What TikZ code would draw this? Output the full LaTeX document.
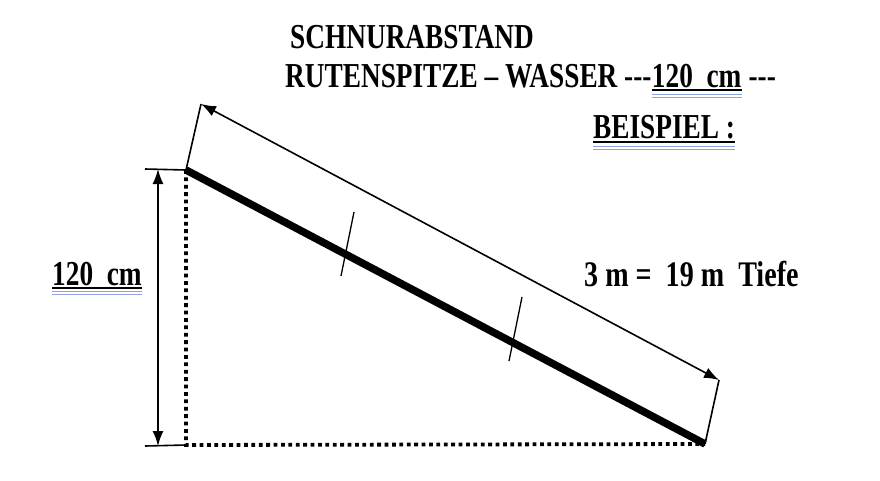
\documentclass[tikz,border=0pt]{standalone}
\usepackage{fontspec}
\setmainfont[FakeStretch=0.78]{Liberation Serif}
\usetikzlibrary{arrows.meta}
\definecolor{spell}{RGB}{140,165,225}
\begin{document}
\begin{tikzpicture}[x=1pt,y=-1pt,
  lbl/.style={font=\fontsize{35}{40}\selectfont\bfseries, inner sep=0pt, anchor=base west},
  big/.style={font=\fontsize{36}{42}\selectfont\bfseries, inner sep=0pt, anchor=base west},
  dim/.style={line width=1.6pt},
  dimarrow/.style={line width=1.6pt, {Latex[length=15pt,width=11pt]}-{Latex[length=15pt,width=11pt]}},
  rod/.style={line width=7.5pt},
  dots/.style={line width=3.8pt, dash pattern=on 3.8pt off 3.6pt},
  tick/.style={line width=1.3pt},
  uline/.style={line width=1.6pt},
  sline/.style={line width=1pt, spell}]
\useasboundingbox (0,0) rectangle (880,480);
% coordinates
\coordinate (top) at (186,170);
\coordinate (bot) at (186,445);
\coordinate (tip) at (705,444);
\coordinate (topx) at (201,104);
\coordinate (tipx) at (719,380);
\coordinate (lt) at (145,169);
\coordinate (lb) at (145,446);
\coordinate (vt) at (158,169);
\coordinate (vb) at (158,446);
\coordinate (t1a) at (354,212);
\coordinate (t1b) at (341,276);
\coordinate (t2a) at (522,297);
\coordinate (t2b) at (509,361);
% dotted sides
\draw[dots] (top) -- (bot) -- (tip);
% rod
\draw[rod] (top) -- (tip);
% extension lines and slant dimension
\draw[dim] (top) -- (topx);
\draw[dim] (tip) -- (tipx);
\draw[dimarrow] (topx) -- (tipx);
% vertical dimension
\draw[dim] (lt) -- (top);
\draw[dim] (lb) -- (bot);
\draw[dimarrow] (vt) -- (vb);
% ticks
\draw[tick] (t1a) -- (t1b);
\draw[tick] (t2a) -- (t2b);
% texts
\node[lbl] (h1) at (290,48) {SCHNURABSTAND};
\node[lbl] (h2a) at (285,87) {RUTENSPITZE – WASSER {-}{-}{-}};
\node[lbl] (h2b) at (h2a.base east) {120\ \ cm};
\node[lbl] (h2c) at (h2b.base east) {\ {-}{-}{-}};
\node[lbl] (h3) at (593,138) {BEISPIEL :};
\node[lbl] (left) at (52,285) {120\ \ cm};
\node[big] (right) at (584,286) {3 m =\ \ 19 m\ \ Tiefe};
% underlines
\draw[uline] ([yshift=-3pt]h2b.base west) -- ([yshift=-3pt]h2b.base east);
\draw[sline] ([yshift=-7pt]h2b.base west) -- ([yshift=-7pt]h2b.base east);
\draw[sline] ([yshift=-10pt]h2b.base west) -- ([yshift=-10pt]h2b.base east);
\draw[uline] ([yshift=-4pt]h3.base west) -- ([yshift=-4pt]h3.base east);
\draw[sline] ([yshift=-8pt]h3.base west) -- ([yshift=-8pt]h3.base east);
\draw[sline] ([yshift=-11pt]h3.base west) -- ([yshift=-11pt]h3.base east);
\draw[uline] ([yshift=-3pt]left.base west) -- ([yshift=-3pt]left.base east);
\draw[sline] ([yshift=-6pt]left.base west) -- ([yshift=-6pt]left.base east);
\draw[sline] ([yshift=-9pt]left.base west) -- ([yshift=-9pt]left.base east);
\end{tikzpicture}
\end{document}
